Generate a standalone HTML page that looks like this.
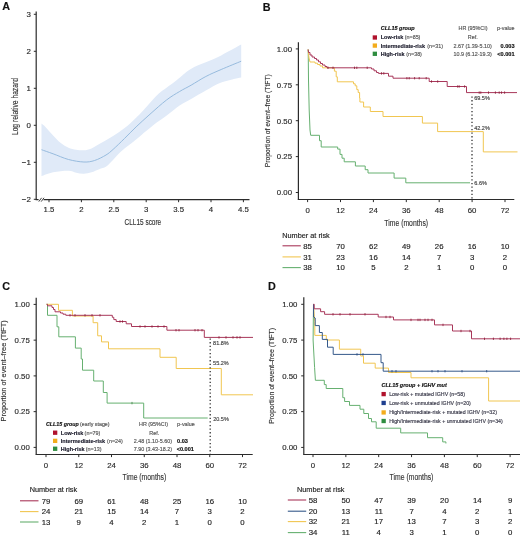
<!DOCTYPE html>
<html><head><meta charset="utf-8"><style>
html,body{margin:0;padding:0;background:#fff;}
body{width:520px;height:537px;overflow:hidden;}
svg{display:block;font-family:"Liberation Sans", sans-serif;will-change:transform;}
</style></head><body>
<svg width="520" height="537" viewBox="0 0 520 537">
<rect width="520" height="537" fill="#fff"/>
<text x="2.3" y="10.3" font-size="10.8" text-anchor="start" fill="#111" stroke="#111" stroke-width="0.15" font-weight="bold" font-style="normal" >A</text><path d="M41.5,123.5 C42.15,124.07 43.47,124.92 45.4,126.9 C47.33,128.88 50.53,132.72 53.1,135.4 C55.67,138.08 58.23,140.95 60.8,143 C63.37,145.05 65.93,146.58 68.5,147.7 C71.07,148.82 73.65,149.27 76.2,149.7 C78.75,150.13 81.25,150.52 83.8,150.3 C86.35,150.08 88.55,149.65 91.5,148.4 C94.45,147.15 97.9,144.85 101.5,142.8 C105.1,140.75 109.25,138.55 113.1,136.1 C116.95,133.65 120.77,131.17 124.6,128.1 C128.43,125.03 133.03,120.58 136.1,117.7 C139.17,114.82 140.48,113.5 143,110.8 C145.52,108.1 148.57,104.38 151.2,101.5 C153.83,98.62 156.25,95.8 158.8,93.5 C161.35,91.2 163.8,89.7 166.5,87.7 C169.2,85.7 171.02,84.58 175,81.5 C178.98,78.42 185.27,72.4 190.4,69.2 C195.53,66 200.67,64.6 205.8,62.3 C210.93,60 215.3,58.35 221.2,55.4 C227.1,52.45 237.87,46.4 241.2,44.6 L241.2,77.5 C237.87,78.33 227.1,80.33 221.2,82.5 C215.3,84.67 210.82,87.75 205.8,90.5 C200.78,93.25 195.47,96.5 191.1,99 C186.73,101.5 183.45,102.9 179.6,105.5 C175.75,108.1 172.55,111.18 168,114.6 C163.45,118.02 157.62,121.85 152.3,126 C146.98,130.15 139.95,136.33 136.1,139.5 C132.25,142.67 131.82,142.92 129.2,145 C126.58,147.08 123.1,149.5 120.4,152 C117.7,154.5 115.37,157.58 113,160 C110.63,162.42 108.5,164.97 106.2,166.5 C103.9,168.03 101.65,168.23 99.2,169.2 C96.75,170.17 94.07,171.53 91.5,172.3 C88.93,173.07 86.35,173.72 83.8,173.8 C81.25,173.88 78.75,173.3 76.2,172.8 C73.65,172.3 72.35,170.88 68.5,170.8 C64.65,170.72 57.6,171.4 53.1,172.3 C48.6,173.2 43.43,175.55 41.5,176.2 Z" fill="#e0eaf8" stroke="none"/><path d="M41.5,149.7 C43.43,150.38 48.6,152.17 53.1,153.8 C57.6,155.43 63.38,158.13 68.5,159.5 C73.62,160.87 79.45,161.83 83.8,162 C88.15,162.17 90.9,161.67 94.6,160.5 C98.3,159.33 102.92,156.85 106,155 C109.08,153.15 110,152.17 113.1,149.4 C116.2,146.63 120.77,142.15 124.6,138.4 C128.43,134.65 131.87,130.93 136.1,126.9 C140.33,122.87 144.93,118.68 150,114.2 C155.07,109.72 161.57,103.78 166.5,100 C171.43,96.22 175.5,93.97 179.6,91.5 C183.7,89.03 186.73,87.7 191.1,85.2 C195.47,82.7 200.78,79.12 205.8,76.5 C210.82,73.88 215.3,72.05 221.2,69.5 C227.1,66.95 237.87,62.58 241.2,61.2" fill="none" stroke="#8fb6da" stroke-width="0.9"/><line x1="36.2" y1="11.5" x2="36.2" y2="199.6" stroke="#2b2b2b" stroke-width="1.2" /><line x1="35.6" y1="199.6" x2="249.5" y2="199.6" stroke="#2b2b2b" stroke-width="1.2" /><rect x="38.6" y="197.6" width="5" height="4" fill="#fff"/><line x1="38.8" y1="201.6" x2="41.6" y2="197.8" stroke="#2b2b2b" stroke-width="0.9" /><line x1="41.2" y1="201.6" x2="44" y2="197.8" stroke="#2b2b2b" stroke-width="0.9" /><line x1="33.8" y1="14.3" x2="36.2" y2="14.3" stroke="#2b2b2b" stroke-width="1.0" /><text x="30.8" y="17.1" font-size="7.9" text-anchor="end" fill="#2a2a2a" stroke="#2a2a2a" stroke-width="0.15" font-weight="normal" font-style="normal" >3</text><line x1="33.8" y1="51.3" x2="36.2" y2="51.3" stroke="#2b2b2b" stroke-width="1.0" /><text x="30.8" y="54.1" font-size="7.9" text-anchor="end" fill="#2a2a2a" stroke="#2a2a2a" stroke-width="0.15" font-weight="normal" font-style="normal" >2</text><line x1="33.8" y1="88.3" x2="36.2" y2="88.3" stroke="#2b2b2b" stroke-width="1.0" /><text x="30.8" y="91.1" font-size="7.9" text-anchor="end" fill="#2a2a2a" stroke="#2a2a2a" stroke-width="0.15" font-weight="normal" font-style="normal" >1</text><line x1="33.8" y1="125.3" x2="36.2" y2="125.3" stroke="#2b2b2b" stroke-width="1.0" /><text x="30.8" y="128.1" font-size="7.9" text-anchor="end" fill="#2a2a2a" stroke="#2a2a2a" stroke-width="0.15" font-weight="normal" font-style="normal" >0</text><line x1="33.8" y1="162.3" x2="36.2" y2="162.3" stroke="#2b2b2b" stroke-width="1.0" /><text x="30.8" y="165.1" font-size="7.9" text-anchor="end" fill="#2a2a2a" stroke="#2a2a2a" stroke-width="0.15" font-weight="normal" font-style="normal" >−1</text><line x1="33.8" y1="199.3" x2="36.2" y2="199.3" stroke="#2b2b2b" stroke-width="1.0" /><text x="30.8" y="202.1" font-size="7.9" text-anchor="end" fill="#2a2a2a" stroke="#2a2a2a" stroke-width="0.15" font-weight="normal" font-style="normal" >−2</text><line x1="49" y1="199.6" x2="49" y2="202.2" stroke="#2b2b2b" stroke-width="1.0" /><text x="49" y="212.4" font-size="7.8" text-anchor="middle" fill="#2a2a2a" stroke="#2a2a2a" stroke-width="0.15" font-weight="normal" font-style="normal" >1.5</text><line x1="81.4" y1="199.6" x2="81.4" y2="202.2" stroke="#2b2b2b" stroke-width="1.0" /><text x="81.4" y="212.4" font-size="7.8" text-anchor="middle" fill="#2a2a2a" stroke="#2a2a2a" stroke-width="0.15" font-weight="normal" font-style="normal" >2</text><line x1="113.8" y1="199.6" x2="113.8" y2="202.2" stroke="#2b2b2b" stroke-width="1.0" /><text x="113.8" y="212.4" font-size="7.8" text-anchor="middle" fill="#2a2a2a" stroke="#2a2a2a" stroke-width="0.15" font-weight="normal" font-style="normal" >2.5</text><line x1="146.2" y1="199.6" x2="146.2" y2="202.2" stroke="#2b2b2b" stroke-width="1.0" /><text x="146.2" y="212.4" font-size="7.8" text-anchor="middle" fill="#2a2a2a" stroke="#2a2a2a" stroke-width="0.15" font-weight="normal" font-style="normal" >3</text><line x1="178.6" y1="199.6" x2="178.6" y2="202.2" stroke="#2b2b2b" stroke-width="1.0" /><text x="178.6" y="212.4" font-size="7.8" text-anchor="middle" fill="#2a2a2a" stroke="#2a2a2a" stroke-width="0.15" font-weight="normal" font-style="normal" >3.5</text><line x1="211" y1="199.6" x2="211" y2="202.2" stroke="#2b2b2b" stroke-width="1.0" /><text x="211" y="212.4" font-size="7.8" text-anchor="middle" fill="#2a2a2a" stroke="#2a2a2a" stroke-width="0.15" font-weight="normal" font-style="normal" >4</text><line x1="243.4" y1="199.6" x2="243.4" y2="202.2" stroke="#2b2b2b" stroke-width="1.0" /><text x="243.4" y="212.4" font-size="7.8" text-anchor="middle" fill="#2a2a2a" stroke="#2a2a2a" stroke-width="0.15" font-weight="normal" font-style="normal" >4.5</text><text x="142.9" y="225.4" font-size="9.6" text-anchor="middle" fill="#333" textLength="36.6" lengthAdjust="spacingAndGlyphs" stroke="#333" stroke-width="0.15">CLL15 score</text><text transform="translate(17.8,106.6) rotate(-90)" x="0" y="0" font-size="9.6" text-anchor="middle" fill="#333" textLength="57" lengthAdjust="spacingAndGlyphs" stroke="#333" stroke-width="0.15">Log relative hazard</text><text x="262.7" y="10.6" font-size="10.8" text-anchor="start" fill="#111" stroke="#111" stroke-width="0.15" font-weight="bold" font-style="normal" >B</text><line x1="298.4" y1="42.3" x2="298.4" y2="199.5" stroke="#2b2b2b" stroke-width="1.2" /><line x1="297.8" y1="199.5" x2="514.3" y2="199.5" stroke="#2b2b2b" stroke-width="1.2" /><line x1="295.8" y1="48.9" x2="298.4" y2="48.9" stroke="#2b2b2b" stroke-width="1.0" /><text x="292" y="51.7" font-size="7.8" text-anchor="end" fill="#2a2a2a" stroke="#2a2a2a" stroke-width="0.15" font-weight="normal" font-style="normal" >1.00</text><line x1="295.8" y1="84.8" x2="298.4" y2="84.8" stroke="#2b2b2b" stroke-width="1.0" /><text x="292" y="87.6" font-size="7.8" text-anchor="end" fill="#2a2a2a" stroke="#2a2a2a" stroke-width="0.15" font-weight="normal" font-style="normal" >0.75</text><line x1="295.8" y1="120.7" x2="298.4" y2="120.7" stroke="#2b2b2b" stroke-width="1.0" /><text x="292" y="123.5" font-size="7.8" text-anchor="end" fill="#2a2a2a" stroke="#2a2a2a" stroke-width="0.15" font-weight="normal" font-style="normal" >0.50</text><line x1="295.8" y1="156.6" x2="298.4" y2="156.6" stroke="#2b2b2b" stroke-width="1.0" /><text x="292" y="159.4" font-size="7.8" text-anchor="end" fill="#2a2a2a" stroke="#2a2a2a" stroke-width="0.15" font-weight="normal" font-style="normal" >0.25</text><line x1="295.8" y1="192.5" x2="298.4" y2="192.5" stroke="#2b2b2b" stroke-width="1.0" /><text x="292" y="195.3" font-size="7.8" text-anchor="end" fill="#2a2a2a" stroke="#2a2a2a" stroke-width="0.15" font-weight="normal" font-style="normal" >0.00</text><line x1="307.6" y1="199.5" x2="307.6" y2="202.1" stroke="#2b2b2b" stroke-width="1.0" /><text x="307.6" y="213.1" font-size="7.8" text-anchor="middle" fill="#2a2a2a" stroke="#2a2a2a" stroke-width="0.15" font-weight="normal" font-style="normal" >0</text><line x1="340.5" y1="199.5" x2="340.5" y2="202.1" stroke="#2b2b2b" stroke-width="1.0" /><text x="340.5" y="213.1" font-size="7.8" text-anchor="middle" fill="#2a2a2a" stroke="#2a2a2a" stroke-width="0.15" font-weight="normal" font-style="normal" >12</text><line x1="373.4" y1="199.5" x2="373.4" y2="202.1" stroke="#2b2b2b" stroke-width="1.0" /><text x="373.4" y="213.1" font-size="7.8" text-anchor="middle" fill="#2a2a2a" stroke="#2a2a2a" stroke-width="0.15" font-weight="normal" font-style="normal" >24</text><line x1="406.3" y1="199.5" x2="406.3" y2="202.1" stroke="#2b2b2b" stroke-width="1.0" /><text x="406.3" y="213.1" font-size="7.8" text-anchor="middle" fill="#2a2a2a" stroke="#2a2a2a" stroke-width="0.15" font-weight="normal" font-style="normal" >36</text><line x1="439.2" y1="199.5" x2="439.2" y2="202.1" stroke="#2b2b2b" stroke-width="1.0" /><text x="439.2" y="213.1" font-size="7.8" text-anchor="middle" fill="#2a2a2a" stroke="#2a2a2a" stroke-width="0.15" font-weight="normal" font-style="normal" >48</text><line x1="472.1" y1="199.5" x2="472.1" y2="202.1" stroke="#2b2b2b" stroke-width="1.0" /><text x="472.1" y="213.1" font-size="7.8" text-anchor="middle" fill="#2a2a2a" stroke="#2a2a2a" stroke-width="0.15" font-weight="normal" font-style="normal" >60</text><line x1="505" y1="199.5" x2="505" y2="202.1" stroke="#2b2b2b" stroke-width="1.0" /><text x="505" y="213.1" font-size="7.8" text-anchor="middle" fill="#2a2a2a" stroke="#2a2a2a" stroke-width="0.15" font-weight="normal" font-style="normal" >72</text><text x="406.2" y="225.6" font-size="9.6" text-anchor="middle" fill="#333" textLength="43.8" lengthAdjust="spacingAndGlyphs" stroke="#333" stroke-width="0.15">Time (months)</text><text transform="translate(270,120.7) rotate(-90)" x="0" y="0" font-size="8.0" text-anchor="middle" fill="#333" textLength="93" lengthAdjust="spacingAndGlyphs" stroke="#333" stroke-width="0.15">Proportion of event–free (TtFT)</text><polyline points="308.2,49.5 308.5,80 309.2,110 310,130 310.7,135.3 310.7,135.3 319.5,135.3 319.5,140.7 321.2,140.7 321.2,147 337.7,147 337.7,149.1 340,149.1 340,154.4 342,154.4 342,158.2 344.2,158.2 344.2,161.8 355.4,161.8 355.4,166 365.2,166 365.2,169.7 368,169.7 368,173 394.1,173 394.1,178.1 405.8,178.1 405.8,182.8 470,182.8" fill="none" stroke="#66b070" stroke-width="1.0" stroke-linejoin="miter" /><polyline points="308.1,49.5 309,58 310,62 315,62 315,63.2 317.5,63.2 317.5,64.5 320,64.5 320,66 322.5,66 322.5,67.8 322.5,67.8 334.4,67.8 334.4,71.2 336.2,71.2 336.2,76.8 337.3,76.8 337.3,81.8 353.5,81.8 353.5,83.8 355.2,83.8 355.2,85.8 356.8,85.8 356.8,89.6 358.2,89.6 358.2,92.5 359.6,92.5 359.6,98 359.9,98 359.9,102 363.6,102 363.6,107 370.3,107 370.3,111.5 383,111.5 383,116.5 422.4,116.5 422.4,123.1 437.6,123.1 437.6,131.6 483.3,131.6 483.3,151.9 517.5,151.9" fill="none" stroke="#f1c651" stroke-width="1.0" stroke-linejoin="miter" /><polyline points="308.1,49.5 308.6,52.5 310,52.5 310,55 312,55 312,57 314.5,57 314.5,58.5 316.5,58.5 316.5,60 318.5,60 318.5,61.8 320.5,61.8 320.5,63.5 322.5,63.5 322.5,65 325,65 325,66.5 327,66.5 327,67.8 327,67.8 371.5,67.8 371.5,69 374,69 374,70.8 376.5,70.8 376.5,72.5 378.5,72.5 378.5,73.4 388.5,73.4 388.5,76.2 393,76.2 393,78.2 429.2,78.2 429.2,81.5 447.2,81.5 447.2,86.5 466.5,86.5 466.5,92.6 517,92.6" fill="none" stroke="#a8375a" stroke-width="1.0" stroke-linejoin="miter" /><line x1="328" y1="66.6" x2="328" y2="69" stroke="#8a1a35" stroke-width="0.8" /><line x1="333" y1="66.6" x2="333" y2="69" stroke="#8a1a35" stroke-width="0.8" /><line x1="354.5" y1="66.6" x2="354.5" y2="69" stroke="#8a1a35" stroke-width="0.8" /><line x1="356.8" y1="66.6" x2="356.8" y2="69" stroke="#8a1a35" stroke-width="0.8" /><line x1="367.2" y1="66.6" x2="367.2" y2="69" stroke="#8a1a35" stroke-width="0.8" /><line x1="381.5" y1="72.2" x2="381.5" y2="74.6" stroke="#8a1a35" stroke-width="0.8" /><line x1="383.8" y1="72.2" x2="383.8" y2="74.6" stroke="#8a1a35" stroke-width="0.8" /><line x1="406.9" y1="77" x2="406.9" y2="79.4" stroke="#8a1a35" stroke-width="0.8" /><line x1="409.2" y1="77" x2="409.2" y2="79.4" stroke="#8a1a35" stroke-width="0.8" /><line x1="414.6" y1="77" x2="414.6" y2="79.4" stroke="#8a1a35" stroke-width="0.8" /><line x1="419.2" y1="77" x2="419.2" y2="79.4" stroke="#8a1a35" stroke-width="0.8" /><line x1="426.2" y1="77" x2="426.2" y2="79.4" stroke="#8a1a35" stroke-width="0.8" /><line x1="431.5" y1="80.3" x2="431.5" y2="82.7" stroke="#8a1a35" stroke-width="0.8" /><line x1="437.7" y1="80.3" x2="437.7" y2="82.7" stroke="#8a1a35" stroke-width="0.8" /><line x1="457.7" y1="85.3" x2="457.7" y2="87.7" stroke="#8a1a35" stroke-width="0.8" /><line x1="459.2" y1="85.3" x2="459.2" y2="87.7" stroke="#8a1a35" stroke-width="0.8" /><line x1="464.6" y1="85.3" x2="464.6" y2="87.7" stroke="#8a1a35" stroke-width="0.8" /><line x1="479.2" y1="91.4" x2="479.2" y2="93.8" stroke="#8a1a35" stroke-width="0.8" /><line x1="480.8" y1="91.4" x2="480.8" y2="93.8" stroke="#8a1a35" stroke-width="0.8" /><line x1="488.5" y1="91.4" x2="488.5" y2="93.8" stroke="#8a1a35" stroke-width="0.8" /><line x1="495.4" y1="91.4" x2="495.4" y2="93.8" stroke="#8a1a35" stroke-width="0.8" /><line x1="499.2" y1="91.4" x2="499.2" y2="93.8" stroke="#8a1a35" stroke-width="0.8" /><line x1="501.5" y1="91.4" x2="501.5" y2="93.8" stroke="#8a1a35" stroke-width="0.8" /><line x1="504.6" y1="91.4" x2="504.6" y2="93.8" stroke="#8a1a35" stroke-width="0.8" /><line x1="472" y1="96.5" x2="472" y2="199" stroke="#333" stroke-width="1.3" stroke-dasharray="1.3 2.3"/><text x="474.2" y="99.7" font-size="5.5" text-anchor="start" fill="#444" stroke="#444" stroke-width="0.15" font-weight="normal" font-style="normal" >69.5%</text><text x="474.2" y="129.7" font-size="5.5" text-anchor="start" fill="#444" stroke="#444" stroke-width="0.15" font-weight="normal" font-style="normal" >42.2%</text><text x="474.3" y="184.6" font-size="5.5" text-anchor="start" fill="#444" stroke="#444" stroke-width="0.15" font-weight="normal" font-style="normal" >6.6%</text><text x="380.7" y="30.4" font-size="5.5" text-anchor="start" fill="#111" stroke="#111" stroke-width="0.15" font-weight="bold" font-style="italic" >CLL15 group</text><text x="458.5" y="30.4" font-size="5.4" text-anchor="start" fill="#555" stroke="#555" stroke-width="0.15" font-weight="normal" font-style="normal" >HR (95%CI)</text><text x="496.9" y="30.4" font-size="5.4" text-anchor="start" fill="#555" stroke="#555" stroke-width="0.15" font-weight="normal" font-style="normal" >p-value</text><rect x="372.7" y="35.35" width="4.3" height="4.3" fill="#b0122c"/><text x="380.7" y="39.45" font-size="5.5" text-anchor="start" fill="#1a1a2a" stroke="#1a1a2a" stroke-width="0.15" font-weight="bold" font-style="normal" >Low-risk</text><text x="404.7" y="39.45" font-size="5.4" text-anchor="start" fill="#555" stroke="#555" stroke-width="0.15" font-weight="normal" font-style="normal" >(n=85)</text><text x="472.7" y="39.45" font-size="5.4" text-anchor="middle" fill="#555" stroke="#555" stroke-width="0.15" font-weight="normal" font-style="normal" >Ref.</text><rect x="372.7" y="43.45" width="4.3" height="4.3" fill="#f3ac1c"/><text x="380.7" y="47.55" font-size="5.5" text-anchor="start" fill="#1a1a2a" stroke="#1a1a2a" stroke-width="0.15" font-weight="bold" font-style="normal" >Intermediate-risk</text><text x="427.3" y="47.55" font-size="5.4" text-anchor="start" fill="#555" stroke="#555" stroke-width="0.15" font-weight="normal" font-style="normal" >(n=31)</text><text x="472.7" y="47.55" font-size="5.4" text-anchor="middle" fill="#555" stroke="#555" stroke-width="0.15" font-weight="normal" font-style="normal" >2.67 (1.39-5.10)</text><text x="514.6" y="47.55" font-size="5.6" text-anchor="end" fill="#111" stroke="#111" stroke-width="0.15" font-weight="bold" font-style="normal" >0.003</text><rect x="372.7" y="51.65" width="4.3" height="4.3" fill="#2f8d40"/><text x="380.7" y="55.75" font-size="5.5" text-anchor="start" fill="#1a1a2a" stroke="#1a1a2a" stroke-width="0.15" font-weight="bold" font-style="normal" >High-risk</text><text x="406.2" y="55.75" font-size="5.4" text-anchor="start" fill="#555" stroke="#555" stroke-width="0.15" font-weight="normal" font-style="normal" >(n=38)</text><text x="472.7" y="55.75" font-size="5.4" text-anchor="middle" fill="#555" stroke="#555" stroke-width="0.15" font-weight="normal" font-style="normal" >10.9 (6.12-19.3)</text><text x="514.6" y="55.75" font-size="5.6" text-anchor="end" fill="#111" stroke="#111" stroke-width="0.15" font-weight="bold" font-style="normal" >&lt;0.001</text><text x="282.3" y="238.1" font-size="7.3" text-anchor="start" fill="#222" stroke="#222" stroke-width="0.15" font-weight="normal" font-style="normal" >Number at risk</text><line x1="282.5" y1="245.8" x2="300.8" y2="245.8" stroke="#a8375a" stroke-width="1.1" /><text x="307.6" y="248.6" font-size="7.8" text-anchor="middle" fill="#222" stroke="#222" stroke-width="0.15" font-weight="normal" font-style="normal" >85</text><text x="340.5" y="248.6" font-size="7.8" text-anchor="middle" fill="#222" stroke="#222" stroke-width="0.15" font-weight="normal" font-style="normal" >70</text><text x="373.4" y="248.6" font-size="7.8" text-anchor="middle" fill="#222" stroke="#222" stroke-width="0.15" font-weight="normal" font-style="normal" >62</text><text x="406.3" y="248.6" font-size="7.8" text-anchor="middle" fill="#222" stroke="#222" stroke-width="0.15" font-weight="normal" font-style="normal" >49</text><text x="439.2" y="248.6" font-size="7.8" text-anchor="middle" fill="#222" stroke="#222" stroke-width="0.15" font-weight="normal" font-style="normal" >26</text><text x="472.1" y="248.6" font-size="7.8" text-anchor="middle" fill="#222" stroke="#222" stroke-width="0.15" font-weight="normal" font-style="normal" >16</text><text x="505" y="248.6" font-size="7.8" text-anchor="middle" fill="#222" stroke="#222" stroke-width="0.15" font-weight="normal" font-style="normal" >10</text><line x1="282.5" y1="256.9" x2="300.8" y2="256.9" stroke="#f1c651" stroke-width="1.1" /><text x="307.6" y="259.7" font-size="7.8" text-anchor="middle" fill="#222" stroke="#222" stroke-width="0.15" font-weight="normal" font-style="normal" >31</text><text x="340.5" y="259.7" font-size="7.8" text-anchor="middle" fill="#222" stroke="#222" stroke-width="0.15" font-weight="normal" font-style="normal" >23</text><text x="373.4" y="259.7" font-size="7.8" text-anchor="middle" fill="#222" stroke="#222" stroke-width="0.15" font-weight="normal" font-style="normal" >16</text><text x="406.3" y="259.7" font-size="7.8" text-anchor="middle" fill="#222" stroke="#222" stroke-width="0.15" font-weight="normal" font-style="normal" >14</text><text x="439.2" y="259.7" font-size="7.8" text-anchor="middle" fill="#222" stroke="#222" stroke-width="0.15" font-weight="normal" font-style="normal" >7</text><text x="472.1" y="259.7" font-size="7.8" text-anchor="middle" fill="#222" stroke="#222" stroke-width="0.15" font-weight="normal" font-style="normal" >3</text><text x="505" y="259.7" font-size="7.8" text-anchor="middle" fill="#222" stroke="#222" stroke-width="0.15" font-weight="normal" font-style="normal" >2</text><line x1="282.5" y1="267.6" x2="300.8" y2="267.6" stroke="#66b070" stroke-width="1.1" /><text x="307.6" y="270.4" font-size="7.8" text-anchor="middle" fill="#222" stroke="#222" stroke-width="0.15" font-weight="normal" font-style="normal" >38</text><text x="340.5" y="270.4" font-size="7.8" text-anchor="middle" fill="#222" stroke="#222" stroke-width="0.15" font-weight="normal" font-style="normal" >10</text><text x="373.4" y="270.4" font-size="7.8" text-anchor="middle" fill="#222" stroke="#222" stroke-width="0.15" font-weight="normal" font-style="normal" >5</text><text x="406.3" y="270.4" font-size="7.8" text-anchor="middle" fill="#222" stroke="#222" stroke-width="0.15" font-weight="normal" font-style="normal" >2</text><text x="439.2" y="270.4" font-size="7.8" text-anchor="middle" fill="#222" stroke="#222" stroke-width="0.15" font-weight="normal" font-style="normal" >1</text><text x="472.1" y="270.4" font-size="7.8" text-anchor="middle" fill="#222" stroke="#222" stroke-width="0.15" font-weight="normal" font-style="normal" >0</text><text x="505" y="270.4" font-size="7.8" text-anchor="middle" fill="#222" stroke="#222" stroke-width="0.15" font-weight="normal" font-style="normal" >0</text><text x="2.3" y="290.2" font-size="10.8" text-anchor="start" fill="#111" stroke="#111" stroke-width="0.15" font-weight="bold" font-style="normal" >C</text><line x1="36.2" y1="297.7" x2="36.2" y2="454.5" stroke="#2b2b2b" stroke-width="1.2" /><line x1="35.6" y1="454.5" x2="252.7" y2="454.5" stroke="#2b2b2b" stroke-width="1.2" /><line x1="33.6" y1="304.4" x2="36.2" y2="304.4" stroke="#2b2b2b" stroke-width="1.0" /><text x="29.8" y="307.2" font-size="7.8" text-anchor="end" fill="#2a2a2a" stroke="#2a2a2a" stroke-width="0.15" font-weight="normal" font-style="normal" >1.00</text><line x1="33.6" y1="340.15" x2="36.2" y2="340.15" stroke="#2b2b2b" stroke-width="1.0" /><text x="29.8" y="342.95" font-size="7.8" text-anchor="end" fill="#2a2a2a" stroke="#2a2a2a" stroke-width="0.15" font-weight="normal" font-style="normal" >0.75</text><line x1="33.6" y1="375.9" x2="36.2" y2="375.9" stroke="#2b2b2b" stroke-width="1.0" /><text x="29.8" y="378.7" font-size="7.8" text-anchor="end" fill="#2a2a2a" stroke="#2a2a2a" stroke-width="0.15" font-weight="normal" font-style="normal" >0.50</text><line x1="33.6" y1="411.65" x2="36.2" y2="411.65" stroke="#2b2b2b" stroke-width="1.0" /><text x="29.8" y="414.45" font-size="7.8" text-anchor="end" fill="#2a2a2a" stroke="#2a2a2a" stroke-width="0.15" font-weight="normal" font-style="normal" >0.25</text><line x1="33.6" y1="447.4" x2="36.2" y2="447.4" stroke="#2b2b2b" stroke-width="1.0" /><text x="29.8" y="450.2" font-size="7.8" text-anchor="end" fill="#2a2a2a" stroke="#2a2a2a" stroke-width="0.15" font-weight="normal" font-style="normal" >0.00</text><line x1="46" y1="454.5" x2="46" y2="457.1" stroke="#2b2b2b" stroke-width="1.0" /><text x="46" y="467.7" font-size="7.8" text-anchor="middle" fill="#2a2a2a" stroke="#2a2a2a" stroke-width="0.15" font-weight="normal" font-style="normal" >0</text><line x1="78.75" y1="454.5" x2="78.75" y2="457.1" stroke="#2b2b2b" stroke-width="1.0" /><text x="78.75" y="467.7" font-size="7.8" text-anchor="middle" fill="#2a2a2a" stroke="#2a2a2a" stroke-width="0.15" font-weight="normal" font-style="normal" >12</text><line x1="111.5" y1="454.5" x2="111.5" y2="457.1" stroke="#2b2b2b" stroke-width="1.0" /><text x="111.5" y="467.7" font-size="7.8" text-anchor="middle" fill="#2a2a2a" stroke="#2a2a2a" stroke-width="0.15" font-weight="normal" font-style="normal" >24</text><line x1="144.25" y1="454.5" x2="144.25" y2="457.1" stroke="#2b2b2b" stroke-width="1.0" /><text x="144.25" y="467.7" font-size="7.8" text-anchor="middle" fill="#2a2a2a" stroke="#2a2a2a" stroke-width="0.15" font-weight="normal" font-style="normal" >36</text><line x1="177" y1="454.5" x2="177" y2="457.1" stroke="#2b2b2b" stroke-width="1.0" /><text x="177" y="467.7" font-size="7.8" text-anchor="middle" fill="#2a2a2a" stroke="#2a2a2a" stroke-width="0.15" font-weight="normal" font-style="normal" >48</text><line x1="209.75" y1="454.5" x2="209.75" y2="457.1" stroke="#2b2b2b" stroke-width="1.0" /><text x="209.75" y="467.7" font-size="7.8" text-anchor="middle" fill="#2a2a2a" stroke="#2a2a2a" stroke-width="0.15" font-weight="normal" font-style="normal" >60</text><line x1="242.5" y1="454.5" x2="242.5" y2="457.1" stroke="#2b2b2b" stroke-width="1.0" /><text x="242.5" y="467.7" font-size="7.8" text-anchor="middle" fill="#2a2a2a" stroke="#2a2a2a" stroke-width="0.15" font-weight="normal" font-style="normal" >72</text><text x="144.4" y="479.8" font-size="9.6" text-anchor="middle" fill="#333" textLength="43.8" lengthAdjust="spacingAndGlyphs" stroke="#333" stroke-width="0.15">Time (months)</text><text transform="translate(5.9,370.9) rotate(-90)" x="0" y="0" font-size="8.0" text-anchor="middle" fill="#333" textLength="101" lengthAdjust="spacingAndGlyphs" stroke="#333" stroke-width="0.15">Proportion of event–free (TtFT)</text><polyline points="46.6,304.3 47.5,304.3 47.5,315.3 57,315.3 57,326.8 58.8,326.8 58.8,336.8 75.4,336.8 75.4,348.1 81.2,348.1 81.2,359 82.5,359 82.5,370.2 93.7,370.2 93.7,381 103.3,381 103.3,392.5 107.1,392.5 107.1,403.1 143.7,403.1 143.7,418 207.7,418" fill="none" stroke="#66b070" stroke-width="1.0" stroke-linejoin="miter" /><polyline points="46.6,304.3 58.5,304.3 58.5,310.3 72.4,310.3 72.4,316 72.4,316 93.1,316 93.1,322.7 97.7,322.7 97.7,335.8 101.5,335.8 101.5,341.9 108.5,341.9 108.5,348.8 160,348.8 160,357.3 176.2,357.3 176.2,368.5 221.3,368.5 221.3,394.8 253,394.8" fill="none" stroke="#f1c651" stroke-width="1.0" stroke-linejoin="miter" /><polyline points="46.6,304.3 47.5,304.3 47.5,305.8 52,305.8 52,307.5 53.5,307.5 53.5,309.5 55,309.5 55,311.8 60.5,311.8 60.5,313 63,313 63,314.2 65.8,314.2 65.8,315.3 65.8,315.3 112.3,315.3 112.3,317.3 113.8,317.3 113.8,319.6 116.2,319.6 116.2,321.5 126.2,321.5 126.2,323.8 131.5,323.8 131.5,326.5 166.9,326.5 166.9,330.2 204.3,330.2 204.3,337.4 253,337.4" fill="none" stroke="#a8375a" stroke-width="1.0" stroke-linejoin="miter" /><line x1="132" y1="401.9" x2="132" y2="404.3" stroke="#3f7f45" stroke-width="0.8" /><line x1="70" y1="314.1" x2="70" y2="316.5" stroke="#8a1a35" stroke-width="0.8" /><line x1="75" y1="314.1" x2="75" y2="316.5" stroke="#8a1a35" stroke-width="0.8" /><line x1="85" y1="314.1" x2="85" y2="316.5" stroke="#8a1a35" stroke-width="0.8" /><line x1="92" y1="314.1" x2="92" y2="316.5" stroke="#8a1a35" stroke-width="0.8" /><line x1="100" y1="314.1" x2="100" y2="316.5" stroke="#8a1a35" stroke-width="0.8" /><line x1="120" y1="320.3" x2="120" y2="322.7" stroke="#8a1a35" stroke-width="0.8" /><line x1="122.5" y1="320.3" x2="122.5" y2="322.7" stroke="#8a1a35" stroke-width="0.8" /><line x1="140" y1="325.3" x2="140" y2="327.7" stroke="#8a1a35" stroke-width="0.8" /><line x1="145" y1="325.3" x2="145" y2="327.7" stroke="#8a1a35" stroke-width="0.8" /><line x1="152" y1="325.3" x2="152" y2="327.7" stroke="#8a1a35" stroke-width="0.8" /><line x1="158" y1="325.3" x2="158" y2="327.7" stroke="#8a1a35" stroke-width="0.8" /><line x1="164" y1="325.3" x2="164" y2="327.7" stroke="#8a1a35" stroke-width="0.8" /><line x1="176" y1="329" x2="176" y2="331.4" stroke="#8a1a35" stroke-width="0.8" /><line x1="179" y1="329" x2="179" y2="331.4" stroke="#8a1a35" stroke-width="0.8" /><line x1="195" y1="329" x2="195" y2="331.4" stroke="#8a1a35" stroke-width="0.8" /><line x1="198" y1="329" x2="198" y2="331.4" stroke="#8a1a35" stroke-width="0.8" /><line x1="202" y1="329" x2="202" y2="331.4" stroke="#8a1a35" stroke-width="0.8" /><line x1="219" y1="336.2" x2="219" y2="338.6" stroke="#8a1a35" stroke-width="0.8" /><line x1="226" y1="336.2" x2="226" y2="338.6" stroke="#8a1a35" stroke-width="0.8" /><line x1="233" y1="336.2" x2="233" y2="338.6" stroke="#8a1a35" stroke-width="0.8" /><line x1="237" y1="336.2" x2="237" y2="338.6" stroke="#8a1a35" stroke-width="0.8" /><line x1="240" y1="336.2" x2="240" y2="338.6" stroke="#8a1a35" stroke-width="0.8" /><line x1="210.2" y1="338.5" x2="210.2" y2="454" stroke="#333" stroke-width="1.3" stroke-dasharray="1.3 2.3"/><text x="213.1" y="344.6" font-size="5.5" text-anchor="start" fill="#444" stroke="#444" stroke-width="0.15" font-weight="normal" font-style="normal" >81.8%</text><text x="213.1" y="365.4" font-size="5.5" text-anchor="start" fill="#444" stroke="#444" stroke-width="0.15" font-weight="normal" font-style="normal" >55.2%</text><text x="213.2" y="420.6" font-size="5.5" text-anchor="start" fill="#444" stroke="#444" stroke-width="0.15" font-weight="normal" font-style="normal" >20.5%</text><text x="46" y="425.6" font-size="5.3" text-anchor="start" fill="#111" stroke="#111" stroke-width="0.15" font-weight="bold" font-style="italic" >CLL15 group</text><text x="80.1" y="425.6" font-size="5.3" text-anchor="start" fill="#555" stroke="#555" stroke-width="0.15" font-weight="normal" font-style="normal" >(early stage)</text><text x="139" y="425.6" font-size="5.4" text-anchor="start" fill="#555" stroke="#555" stroke-width="0.15" font-weight="normal" font-style="normal" >HR (95%CI)</text><text x="177.1" y="425.6" font-size="5.4" text-anchor="start" fill="#555" stroke="#555" stroke-width="0.15" font-weight="normal" font-style="normal" >p-value</text><rect x="53" y="430.55" width="4.3" height="4.3" fill="#b0122c"/><text x="60.8" y="434.65" font-size="5.5" text-anchor="start" fill="#1a1a2a" stroke="#1a1a2a" stroke-width="0.15" font-weight="bold" font-style="normal" >Low-risk</text><text x="84.6" y="434.65" font-size="5.4" text-anchor="start" fill="#555" stroke="#555" stroke-width="0.15" font-weight="normal" font-style="normal" >(n=79)</text><text x="154.2" y="434.65" font-size="5.4" text-anchor="middle" fill="#555" stroke="#555" stroke-width="0.15" font-weight="normal" font-style="normal" >Ref.</text><rect x="53" y="438.7" width="4.3" height="4.3" fill="#f3ac1c"/><text x="60.8" y="442.8" font-size="5.5" text-anchor="start" fill="#1a1a2a" stroke="#1a1a2a" stroke-width="0.15" font-weight="bold" font-style="normal" >Intermediate-risk</text><text x="107.1" y="442.8" font-size="5.4" text-anchor="start" fill="#555" stroke="#555" stroke-width="0.15" font-weight="normal" font-style="normal" >(n=24)</text><text x="152.9" y="442.8" font-size="5.4" text-anchor="middle" fill="#555" stroke="#555" stroke-width="0.15" font-weight="normal" font-style="normal" >2.48 (1.10-5.60)</text><text x="177.1" y="442.8" font-size="5.6" text-anchor="start" fill="#111" stroke="#111" stroke-width="0.15" font-weight="bold" font-style="normal" >0.03</text><rect x="53" y="446.6" width="4.3" height="4.3" fill="#2f8d40"/><text x="60.8" y="450.7" font-size="5.5" text-anchor="start" fill="#1a1a2a" stroke="#1a1a2a" stroke-width="0.15" font-weight="bold" font-style="normal" >High-risk</text><text x="85.8" y="450.7" font-size="5.4" text-anchor="start" fill="#555" stroke="#555" stroke-width="0.15" font-weight="normal" font-style="normal" >(n=13)</text><text x="152.9" y="450.7" font-size="5.4" text-anchor="middle" fill="#555" stroke="#555" stroke-width="0.15" font-weight="normal" font-style="normal" >7.90 (3.43-18.2)</text><text x="176.7" y="450.7" font-size="5.6" text-anchor="start" fill="#111" stroke="#111" stroke-width="0.15" font-weight="bold" font-style="normal" >&lt;0.001</text><text x="29.7" y="492.3" font-size="7.3" text-anchor="start" fill="#222" stroke="#222" stroke-width="0.15" font-weight="normal" font-style="normal" >Number at risk</text><line x1="20" y1="500.8" x2="38.5" y2="500.8" stroke="#a8375a" stroke-width="1.1" /><text x="46" y="503.6" font-size="7.8" text-anchor="middle" fill="#222" stroke="#222" stroke-width="0.15" font-weight="normal" font-style="normal" >79</text><text x="78.75" y="503.6" font-size="7.8" text-anchor="middle" fill="#222" stroke="#222" stroke-width="0.15" font-weight="normal" font-style="normal" >69</text><text x="111.5" y="503.6" font-size="7.8" text-anchor="middle" fill="#222" stroke="#222" stroke-width="0.15" font-weight="normal" font-style="normal" >61</text><text x="144.25" y="503.6" font-size="7.8" text-anchor="middle" fill="#222" stroke="#222" stroke-width="0.15" font-weight="normal" font-style="normal" >48</text><text x="177" y="503.6" font-size="7.8" text-anchor="middle" fill="#222" stroke="#222" stroke-width="0.15" font-weight="normal" font-style="normal" >25</text><text x="209.75" y="503.6" font-size="7.8" text-anchor="middle" fill="#222" stroke="#222" stroke-width="0.15" font-weight="normal" font-style="normal" >16</text><text x="242.5" y="503.6" font-size="7.8" text-anchor="middle" fill="#222" stroke="#222" stroke-width="0.15" font-weight="normal" font-style="normal" >10</text><line x1="20" y1="511.6" x2="38.5" y2="511.6" stroke="#f1c651" stroke-width="1.1" /><text x="46" y="514.4" font-size="7.8" text-anchor="middle" fill="#222" stroke="#222" stroke-width="0.15" font-weight="normal" font-style="normal" >24</text><text x="78.75" y="514.4" font-size="7.8" text-anchor="middle" fill="#222" stroke="#222" stroke-width="0.15" font-weight="normal" font-style="normal" >21</text><text x="111.5" y="514.4" font-size="7.8" text-anchor="middle" fill="#222" stroke="#222" stroke-width="0.15" font-weight="normal" font-style="normal" >15</text><text x="144.25" y="514.4" font-size="7.8" text-anchor="middle" fill="#222" stroke="#222" stroke-width="0.15" font-weight="normal" font-style="normal" >14</text><text x="177" y="514.4" font-size="7.8" text-anchor="middle" fill="#222" stroke="#222" stroke-width="0.15" font-weight="normal" font-style="normal" >7</text><text x="209.75" y="514.4" font-size="7.8" text-anchor="middle" fill="#222" stroke="#222" stroke-width="0.15" font-weight="normal" font-style="normal" >3</text><text x="242.5" y="514.4" font-size="7.8" text-anchor="middle" fill="#222" stroke="#222" stroke-width="0.15" font-weight="normal" font-style="normal" >2</text><line x1="20" y1="522" x2="38.5" y2="522" stroke="#66b070" stroke-width="1.1" /><text x="46" y="524.8" font-size="7.8" text-anchor="middle" fill="#222" stroke="#222" stroke-width="0.15" font-weight="normal" font-style="normal" >13</text><text x="78.75" y="524.8" font-size="7.8" text-anchor="middle" fill="#222" stroke="#222" stroke-width="0.15" font-weight="normal" font-style="normal" >9</text><text x="111.5" y="524.8" font-size="7.8" text-anchor="middle" fill="#222" stroke="#222" stroke-width="0.15" font-weight="normal" font-style="normal" >4</text><text x="144.25" y="524.8" font-size="7.8" text-anchor="middle" fill="#222" stroke="#222" stroke-width="0.15" font-weight="normal" font-style="normal" >2</text><text x="177" y="524.8" font-size="7.8" text-anchor="middle" fill="#222" stroke="#222" stroke-width="0.15" font-weight="normal" font-style="normal" >1</text><text x="209.75" y="524.8" font-size="7.8" text-anchor="middle" fill="#222" stroke="#222" stroke-width="0.15" font-weight="normal" font-style="normal" >0</text><text x="242.5" y="524.8" font-size="7.8" text-anchor="middle" fill="#222" stroke="#222" stroke-width="0.15" font-weight="normal" font-style="normal" >0</text><text x="268.1" y="290.1" font-size="10.8" text-anchor="start" fill="#111" stroke="#111" stroke-width="0.15" font-weight="bold" font-style="normal" >D</text><line x1="303.8" y1="297.3" x2="303.8" y2="454.5" stroke="#2b2b2b" stroke-width="1.2" /><line x1="303.2" y1="454.5" x2="520.5" y2="454.5" stroke="#2b2b2b" stroke-width="1.2" /><line x1="301.2" y1="304.3" x2="303.8" y2="304.3" stroke="#2b2b2b" stroke-width="1.0" /><text x="297.4" y="307.1" font-size="7.8" text-anchor="end" fill="#2a2a2a" stroke="#2a2a2a" stroke-width="0.15" font-weight="normal" font-style="normal" >1.00</text><line x1="301.2" y1="340.08" x2="303.8" y2="340.08" stroke="#2b2b2b" stroke-width="1.0" /><text x="297.4" y="342.88" font-size="7.8" text-anchor="end" fill="#2a2a2a" stroke="#2a2a2a" stroke-width="0.15" font-weight="normal" font-style="normal" >0.75</text><line x1="301.2" y1="375.86" x2="303.8" y2="375.86" stroke="#2b2b2b" stroke-width="1.0" /><text x="297.4" y="378.66" font-size="7.8" text-anchor="end" fill="#2a2a2a" stroke="#2a2a2a" stroke-width="0.15" font-weight="normal" font-style="normal" >0.50</text><line x1="301.2" y1="411.64" x2="303.8" y2="411.64" stroke="#2b2b2b" stroke-width="1.0" /><text x="297.4" y="414.44" font-size="7.8" text-anchor="end" fill="#2a2a2a" stroke="#2a2a2a" stroke-width="0.15" font-weight="normal" font-style="normal" >0.25</text><line x1="301.2" y1="447.42" x2="303.8" y2="447.42" stroke="#2b2b2b" stroke-width="1.0" /><text x="297.4" y="450.22" font-size="7.8" text-anchor="end" fill="#2a2a2a" stroke="#2a2a2a" stroke-width="0.15" font-weight="normal" font-style="normal" >0.00</text><line x1="313" y1="454.5" x2="313" y2="457.1" stroke="#2b2b2b" stroke-width="1.0" /><text x="313" y="467.7" font-size="7.8" text-anchor="middle" fill="#2a2a2a" stroke="#2a2a2a" stroke-width="0.15" font-weight="normal" font-style="normal" >0</text><line x1="345.85" y1="454.5" x2="345.85" y2="457.1" stroke="#2b2b2b" stroke-width="1.0" /><text x="345.85" y="467.7" font-size="7.8" text-anchor="middle" fill="#2a2a2a" stroke="#2a2a2a" stroke-width="0.15" font-weight="normal" font-style="normal" >12</text><line x1="378.7" y1="454.5" x2="378.7" y2="457.1" stroke="#2b2b2b" stroke-width="1.0" /><text x="378.7" y="467.7" font-size="7.8" text-anchor="middle" fill="#2a2a2a" stroke="#2a2a2a" stroke-width="0.15" font-weight="normal" font-style="normal" >24</text><line x1="411.55" y1="454.5" x2="411.55" y2="457.1" stroke="#2b2b2b" stroke-width="1.0" /><text x="411.55" y="467.7" font-size="7.8" text-anchor="middle" fill="#2a2a2a" stroke="#2a2a2a" stroke-width="0.15" font-weight="normal" font-style="normal" >36</text><line x1="444.4" y1="454.5" x2="444.4" y2="457.1" stroke="#2b2b2b" stroke-width="1.0" /><text x="444.4" y="467.7" font-size="7.8" text-anchor="middle" fill="#2a2a2a" stroke="#2a2a2a" stroke-width="0.15" font-weight="normal" font-style="normal" >48</text><line x1="477.25" y1="454.5" x2="477.25" y2="457.1" stroke="#2b2b2b" stroke-width="1.0" /><text x="477.25" y="467.7" font-size="7.8" text-anchor="middle" fill="#2a2a2a" stroke="#2a2a2a" stroke-width="0.15" font-weight="normal" font-style="normal" >60</text><line x1="510.1" y1="454.5" x2="510.1" y2="457.1" stroke="#2b2b2b" stroke-width="1.0" /><text x="510.1" y="467.7" font-size="7.8" text-anchor="middle" fill="#2a2a2a" stroke="#2a2a2a" stroke-width="0.15" font-weight="normal" font-style="normal" >72</text><text x="411.5" y="479.8" font-size="9.6" text-anchor="middle" fill="#333" textLength="43.8" lengthAdjust="spacingAndGlyphs" stroke="#333" stroke-width="0.15">Time (months)</text><text transform="translate(274.4,375.86) rotate(-90)" x="0" y="0" font-size="8.0" text-anchor="middle" fill="#333" textLength="96" lengthAdjust="spacingAndGlyphs" stroke="#333" stroke-width="0.15">Proportion of event–free (TtFT)</text><polyline points="313.5,304.2 313.1,340 314.6,367.7 315.4,380.3 315.4,380.3 324.3,380.3 324.3,384.6 326.2,384.6 326.2,388.5 342.8,388.5 342.8,397.7 344.6,397.7 344.6,401.5 349.5,401.5 349.5,405.4 360,405.4 360,409.2 363.8,409.2 363.8,413.5 368.5,413.5 368.5,418.5 371.5,418.5 371.5,421.8 376.2,421.8 376.2,428.2 400.7,428.2 400.7,432.9 427.5,432.9 427.5,437.7 442.7,437.7 442.7,441.9 445.9,441.9 445.9,443.5" fill="none" stroke="#66b070" stroke-width="1.0" stroke-linejoin="miter" /><polyline points="313.5,304.2 314.2,315 314.8,321.5 314.8,321.5 314.8,321.5 314.8,335.4 326.3,335.4 326.3,340 339.4,340 339.4,349.2 360.7,349.2 360.7,356 363.5,356 363.5,363.2 375.2,363.2 375.2,368.1 388.5,368.1 388.5,372.5 411,372.5 411,377.8 488.6,377.8 488.6,401 520.5,401" fill="none" stroke="#f1c651" stroke-width="1.0" stroke-linejoin="miter" /><polyline points="313.5,304.2 313.6,317 315.2,318 315.2,318 315.2,318 315.2,325.6 319.4,325.6 319.4,332.5 322.3,332.5 322.3,339.4 327.5,339.4 327.5,347.2 333.2,347.2 333.2,354.4 381,354.4 381,362.7 383.2,362.7 383.2,371.2 520.5,371.2" fill="none" stroke="#35598a" stroke-width="1.0" stroke-linejoin="miter" /><polyline points="313.5,304.2 314.2,304.2 314.2,308.8 320.6,308.8 320.6,311.7 324.6,311.7 324.6,314.3 378.2,314.3 378.2,317 393.5,317 393.5,319.9 434.5,319.9 434.5,324.9 452.5,324.9 452.5,331 471.5,331 471.5,338.8 520.5,338.8" fill="none" stroke="#a8375a" stroke-width="1.0" stroke-linejoin="miter" /><line x1="357" y1="353.2" x2="357" y2="355.6" stroke="#23477f" stroke-width="0.8" /><line x1="363" y1="353.2" x2="363" y2="355.6" stroke="#23477f" stroke-width="0.8" /><line x1="392" y1="370" x2="392" y2="372.4" stroke="#23477f" stroke-width="0.8" /><line x1="396" y1="370" x2="396" y2="372.4" stroke="#23477f" stroke-width="0.8" /><line x1="432" y1="370" x2="432" y2="372.4" stroke="#23477f" stroke-width="0.8" /><line x1="438" y1="370" x2="438" y2="372.4" stroke="#23477f" stroke-width="0.8" /><line x1="445" y1="370" x2="445" y2="372.4" stroke="#23477f" stroke-width="0.8" /><line x1="462" y1="370" x2="462" y2="372.4" stroke="#23477f" stroke-width="0.8" /><line x1="486.7" y1="370" x2="486.7" y2="372.4" stroke="#23477f" stroke-width="0.8" /><line x1="333" y1="313.1" x2="333" y2="315.5" stroke="#8a1a35" stroke-width="0.8" /><line x1="340" y1="313.1" x2="340" y2="315.5" stroke="#8a1a35" stroke-width="0.8" /><line x1="350" y1="313.1" x2="350" y2="315.5" stroke="#8a1a35" stroke-width="0.8" /><line x1="365" y1="313.1" x2="365" y2="315.5" stroke="#8a1a35" stroke-width="0.8" /><line x1="386" y1="315.8" x2="386" y2="318.2" stroke="#8a1a35" stroke-width="0.8" /><line x1="390" y1="315.8" x2="390" y2="318.2" stroke="#8a1a35" stroke-width="0.8" /><line x1="411" y1="318.7" x2="411" y2="321.1" stroke="#8a1a35" stroke-width="0.8" /><line x1="418" y1="318.7" x2="418" y2="321.1" stroke="#8a1a35" stroke-width="0.8" /><line x1="420" y1="318.7" x2="420" y2="321.1" stroke="#8a1a35" stroke-width="0.8" /><line x1="425" y1="318.7" x2="425" y2="321.1" stroke="#8a1a35" stroke-width="0.8" /><line x1="428" y1="318.7" x2="428" y2="321.1" stroke="#8a1a35" stroke-width="0.8" /><line x1="432" y1="318.7" x2="432" y2="321.1" stroke="#8a1a35" stroke-width="0.8" /><line x1="443" y1="323.7" x2="443" y2="326.1" stroke="#8a1a35" stroke-width="0.8" /><line x1="461" y1="329.8" x2="461" y2="332.2" stroke="#8a1a35" stroke-width="0.8" /><line x1="470" y1="329.8" x2="470" y2="332.2" stroke="#8a1a35" stroke-width="0.8" /><line x1="484.5" y1="337.6" x2="484.5" y2="340" stroke="#8a1a35" stroke-width="0.8" /><line x1="493.4" y1="337.6" x2="493.4" y2="340" stroke="#8a1a35" stroke-width="0.8" /><line x1="500.1" y1="337.6" x2="500.1" y2="340" stroke="#8a1a35" stroke-width="0.8" /><line x1="503.9" y1="337.6" x2="503.9" y2="340" stroke="#8a1a35" stroke-width="0.8" /><line x1="506.9" y1="337.6" x2="506.9" y2="340" stroke="#8a1a35" stroke-width="0.8" /><line x1="510.6" y1="337.6" x2="510.6" y2="340" stroke="#8a1a35" stroke-width="0.8" /><text x="381.5" y="386.6" font-size="5.5" text-anchor="start" fill="#111" stroke="#111" stroke-width="0.15" font-weight="bold" font-style="italic" >CLL15 group + IGHV mut</text><rect x="381.5" y="391.95" width="4.3" height="4.3" fill="#b0122c"/><text x="389.2" y="396.05" font-size="5.28" text-anchor="start" fill="#3a3a4a" stroke="#3a3a4a" stroke-width="0.15" font-weight="normal" font-style="normal" >Low-risk + mutated IGHV (n=58)</text><rect x="381.5" y="400.8" width="4.3" height="4.3" fill="#1f3f8f"/><text x="389.2" y="404.9" font-size="5.28" text-anchor="start" fill="#3a3a4a" stroke="#3a3a4a" stroke-width="0.15" font-weight="normal" font-style="normal" >Low-risk + unmutated IGHV (n=20)</text><rect x="381.5" y="410.3" width="4.3" height="4.3" fill="#f3ac1c"/><text x="389.2" y="414.4" font-size="5.28" text-anchor="start" fill="#3a3a4a" stroke="#3a3a4a" stroke-width="0.15" font-weight="normal" font-style="normal" >High/Intermediate-risk + mutated IGHV (n=32)</text><rect x="381.5" y="418.85" width="4.3" height="4.3" fill="#2f8d40"/><text x="389.2" y="422.95" font-size="5.28" text-anchor="start" fill="#3a3a4a" stroke="#3a3a4a" stroke-width="0.15" font-weight="normal" font-style="normal" >High/Intermediate-risk + unmutated IGHV (n=34)</text><text x="297" y="492.3" font-size="7.3" text-anchor="start" fill="#222" stroke="#222" stroke-width="0.15" font-weight="normal" font-style="normal" >Number at risk</text><line x1="287.8" y1="500" x2="306.2" y2="500" stroke="#a8375a" stroke-width="1.1" /><text x="313" y="502.8" font-size="7.8" text-anchor="middle" fill="#222" stroke="#222" stroke-width="0.15" font-weight="normal" font-style="normal" >58</text><text x="345.85" y="502.8" font-size="7.8" text-anchor="middle" fill="#222" stroke="#222" stroke-width="0.15" font-weight="normal" font-style="normal" >50</text><text x="378.7" y="502.8" font-size="7.8" text-anchor="middle" fill="#222" stroke="#222" stroke-width="0.15" font-weight="normal" font-style="normal" >47</text><text x="411.55" y="502.8" font-size="7.8" text-anchor="middle" fill="#222" stroke="#222" stroke-width="0.15" font-weight="normal" font-style="normal" >39</text><text x="444.4" y="502.8" font-size="7.8" text-anchor="middle" fill="#222" stroke="#222" stroke-width="0.15" font-weight="normal" font-style="normal" >20</text><text x="477.25" y="502.8" font-size="7.8" text-anchor="middle" fill="#222" stroke="#222" stroke-width="0.15" font-weight="normal" font-style="normal" >14</text><text x="510.1" y="502.8" font-size="7.8" text-anchor="middle" fill="#222" stroke="#222" stroke-width="0.15" font-weight="normal" font-style="normal" >9</text><line x1="287.8" y1="511.2" x2="306.2" y2="511.2" stroke="#35598a" stroke-width="1.1" /><text x="313" y="514" font-size="7.8" text-anchor="middle" fill="#222" stroke="#222" stroke-width="0.15" font-weight="normal" font-style="normal" >20</text><text x="345.85" y="514" font-size="7.8" text-anchor="middle" fill="#222" stroke="#222" stroke-width="0.15" font-weight="normal" font-style="normal" >13</text><text x="378.7" y="514" font-size="7.8" text-anchor="middle" fill="#222" stroke="#222" stroke-width="0.15" font-weight="normal" font-style="normal" >11</text><text x="411.55" y="514" font-size="7.8" text-anchor="middle" fill="#222" stroke="#222" stroke-width="0.15" font-weight="normal" font-style="normal" >7</text><text x="444.4" y="514" font-size="7.8" text-anchor="middle" fill="#222" stroke="#222" stroke-width="0.15" font-weight="normal" font-style="normal" >4</text><text x="477.25" y="514" font-size="7.8" text-anchor="middle" fill="#222" stroke="#222" stroke-width="0.15" font-weight="normal" font-style="normal" >2</text><text x="510.1" y="514" font-size="7.8" text-anchor="middle" fill="#222" stroke="#222" stroke-width="0.15" font-weight="normal" font-style="normal" >1</text><line x1="287.8" y1="521.6" x2="306.2" y2="521.6" stroke="#f1c651" stroke-width="1.1" /><text x="313" y="524.4" font-size="7.8" text-anchor="middle" fill="#222" stroke="#222" stroke-width="0.15" font-weight="normal" font-style="normal" >32</text><text x="345.85" y="524.4" font-size="7.8" text-anchor="middle" fill="#222" stroke="#222" stroke-width="0.15" font-weight="normal" font-style="normal" >21</text><text x="378.7" y="524.4" font-size="7.8" text-anchor="middle" fill="#222" stroke="#222" stroke-width="0.15" font-weight="normal" font-style="normal" >17</text><text x="411.55" y="524.4" font-size="7.8" text-anchor="middle" fill="#222" stroke="#222" stroke-width="0.15" font-weight="normal" font-style="normal" >13</text><text x="444.4" y="524.4" font-size="7.8" text-anchor="middle" fill="#222" stroke="#222" stroke-width="0.15" font-weight="normal" font-style="normal" >7</text><text x="477.25" y="524.4" font-size="7.8" text-anchor="middle" fill="#222" stroke="#222" stroke-width="0.15" font-weight="normal" font-style="normal" >3</text><text x="510.1" y="524.4" font-size="7.8" text-anchor="middle" fill="#222" stroke="#222" stroke-width="0.15" font-weight="normal" font-style="normal" >2</text><line x1="287.8" y1="532.6" x2="306.2" y2="532.6" stroke="#66b070" stroke-width="1.1" /><text x="313" y="535.4" font-size="7.8" text-anchor="middle" fill="#222" stroke="#222" stroke-width="0.15" font-weight="normal" font-style="normal" >34</text><text x="345.85" y="535.4" font-size="7.8" text-anchor="middle" fill="#222" stroke="#222" stroke-width="0.15" font-weight="normal" font-style="normal" >11</text><text x="378.7" y="535.4" font-size="7.8" text-anchor="middle" fill="#222" stroke="#222" stroke-width="0.15" font-weight="normal" font-style="normal" >4</text><text x="411.55" y="535.4" font-size="7.8" text-anchor="middle" fill="#222" stroke="#222" stroke-width="0.15" font-weight="normal" font-style="normal" >3</text><text x="444.4" y="535.4" font-size="7.8" text-anchor="middle" fill="#222" stroke="#222" stroke-width="0.15" font-weight="normal" font-style="normal" >1</text><text x="477.25" y="535.4" font-size="7.8" text-anchor="middle" fill="#222" stroke="#222" stroke-width="0.15" font-weight="normal" font-style="normal" >0</text><text x="510.1" y="535.4" font-size="7.8" text-anchor="middle" fill="#222" stroke="#222" stroke-width="0.15" font-weight="normal" font-style="normal" >0</text>
</svg>
</body></html>
